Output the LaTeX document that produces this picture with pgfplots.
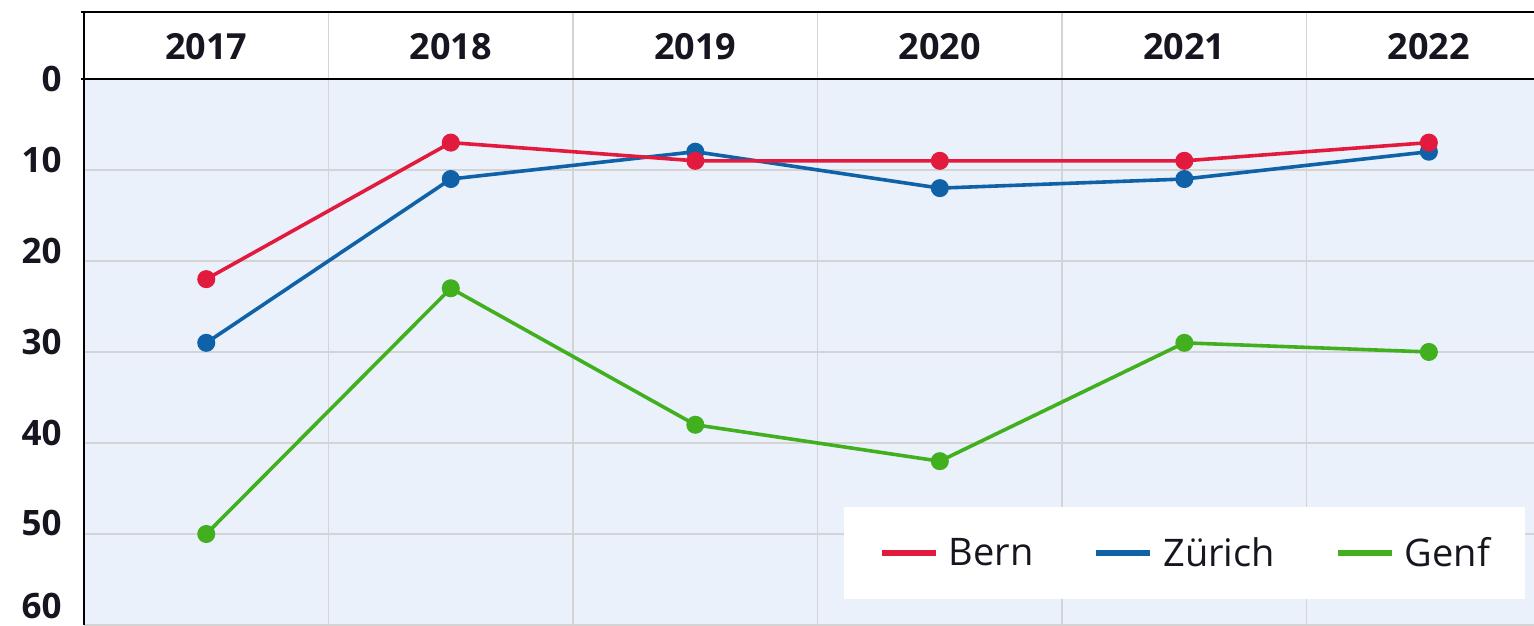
\documentclass[border=0pt]{standalone}
\usepackage{pgfplots}
\pgfplotsset{compat=1.18}
\usepackage{fontspec}
\setmainfont{Open Sans}
\definecolor{cRed}{RGB}{226,26,62}
\definecolor{cBlue}{RGB}{16,98,168}
\definecolor{cGreen}{RGB}{66,176,30}
\definecolor{bgBlue}{RGB}{234,241,251}
\definecolor{gridGray}{RGB}{212,212,212}
\definecolor{txt}{RGB}{22,22,32}
\begin{document}
\begin{tikzpicture}
\begin{axis}[
  set layers,
  scale only axis,
  width=725pt, height=306.5pt,
  xmin=0, xmax=5.93,
  ymin=-7.35, ymax=60,
  y dir=reverse,
  clip=false,
  axis line style={draw=none},
  xtick={1,2,3,4,5},
  xticklabels={},
  xmajorgrids,
  ytick={0,10,20,30,40,50,60},
  yticklabels={},
  ymajorgrids,
  grid style={gridGray, line width=0.8pt},
  major tick length=0pt,
  legend style={at={(axis cs:4.5,52.1)}, anchor=center, draw=none, fill=white,
    legend columns=3, font=\fontsize{19}{22}\selectfont, text=txt,
    inner xsep=17.5pt, inner ysep=15pt,
    nodes={inner sep=0pt},
    /tikz/every odd column/.append style={column sep=5pt},
    /tikz/every even column/.append style={column sep=30pt}},
  legend image code/.code={\draw[#1, line width=3pt] (0pt,0pt) -- (27pt,0pt);},
  reverse legend,
]
\begin{pgfonlayer}{axis background}
\fill[bgBlue] (axis cs:0,0) rectangle (axis cs:5.93,60);
\end{pgfonlayer}

\addplot[cGreen, line width=1.8pt, mark=*, mark size=3.6pt, mark options={draw=none, fill=cGreen}]
  coordinates {(0.5,50) (1.5,23) (2.5,38) (3.5,42) (4.5,29) (5.5,30)};
\addlegendentry{Genf}
\addplot[cBlue, line width=1.8pt, mark=*, mark size=3.6pt, mark options={draw=none, fill=cBlue}]
  coordinates {(0.5,29) (1.5,11) (2.5,8) (3.5,12) (4.5,11) (5.5,8)};
\addlegendentry{Zürich}
\addplot[cRed, line width=1.8pt, mark=*, mark size=3.6pt, mark options={draw=none, fill=cRed}]
  coordinates {(0.5,22) (1.5,7) (2.5,9) (3.5,9) (4.5,9) (5.5,7)};
\addlegendentry{Bern}

\draw[black, line width=1.3pt] (axis cs:0,-7.35) -- (axis cs:0,60);
\draw[black, line width=1.3pt] ([xshift=-1.5pt]axis cs:0,-7.35) -- (axis cs:5.93,-7.35);
\draw[black, line width=1.3pt] ([xshift=-1.5pt]axis cs:0,0) -- (axis cs:5.93,0);

\node[font=\bfseries\fontsize{18}{20}\selectfont, text=txt] at (axis cs:0.5,-3.5) {2017};
\node[font=\bfseries\fontsize{18}{20}\selectfont, text=txt] at (axis cs:1.5,-3.5) {2018};
\node[font=\bfseries\fontsize{18}{20}\selectfont, text=txt] at (axis cs:2.5,-3.5) {2019};
\node[font=\bfseries\fontsize{18}{20}\selectfont, text=txt] at (axis cs:3.5,-3.5) {2020};
\node[font=\bfseries\fontsize{18}{20}\selectfont, text=txt] at (axis cs:4.5,-3.5) {2021};
\node[font=\bfseries\fontsize{18}{20}\selectfont, text=txt] at (axis cs:5.5,-3.5) {2022};

\node[font=\bfseries\fontsize{17.5}{20}\selectfont, text=txt, anchor=east, inner sep=0pt] at ([xshift=-11pt]axis cs:0,0) {0};
\node[font=\bfseries\fontsize{17.5}{20}\selectfont, text=txt, anchor=east, inner sep=0pt] at ([xshift=-11pt]axis cs:0,8.9) {10};
\node[font=\bfseries\fontsize{17.5}{20}\selectfont, text=txt, anchor=east, inner sep=0pt] at ([xshift=-11pt]axis cs:0,18.9) {20};
\node[font=\bfseries\fontsize{17.5}{20}\selectfont, text=txt, anchor=east, inner sep=0pt] at ([xshift=-11pt]axis cs:0,28.9) {30};
\node[font=\bfseries\fontsize{17.5}{20}\selectfont, text=txt, anchor=east, inner sep=0pt] at ([xshift=-11pt]axis cs:0,38.9) {40};
\node[font=\bfseries\fontsize{17.5}{20}\selectfont, text=txt, anchor=east, inner sep=0pt] at ([xshift=-11pt]axis cs:0,48.8) {50};
\node[font=\bfseries\fontsize{17.5}{20}\selectfont, text=txt, anchor=east, inner sep=0pt] at ([xshift=-11pt]axis cs:0,57.9) {60};
\end{axis}
\pgfresetboundingbox
\path ([xshift=-42pt]current axis.south west) rectangle ([yshift=6pt]current axis.north east);
\end{tikzpicture}
\end{document}
